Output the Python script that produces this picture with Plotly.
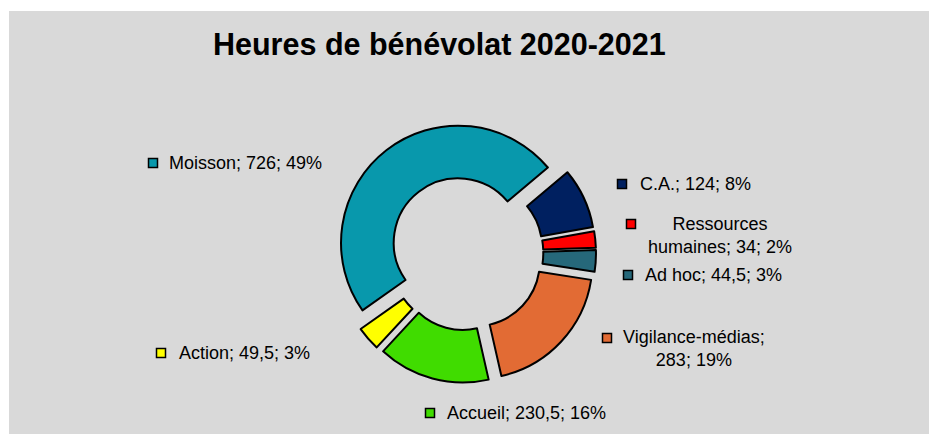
import plotly.graph_objects as go

# data (clockwise order, starting at C.A.)
categories = ["C.A.", "Ressources humaines", "Ad hoc", "Vigilance-médias", "Accueil", "Action", "Moisson"]
hours = [124, 34, 44.5, 283, 230.5, 49.5, 726]
pct_labels = [8, 2, 3, 19, 16, 3, 49]  # as printed on the chart

colors = ["#002060", "#ff0000", "#26687a", "#e26b34", "#40dc00", "#ffff00", "#0898ac"]

W, H = 929, 434


def fmt(v):
    # french decimal comma
    return str(v).replace(".", ",") if v % 1 else str(int(v))


label_lines = {
    "Ressources humaines": "Ressources<br>humaines; {v}; {p}%",
    "Vigilance-médias": "Vigilance-médias;<br>{v}; {p}%",
}

# where each label sits: (key square x, key y, text x, text y), pixels
label_pos = {
    "Moisson": (153, 163, 167, 163),
    "C.A.": (622, 184, 638, 184),
    "Ressources humaines": (631, 224, 646, 235.5),
    "Ad hoc": (628, 275, 643, 275),
    "Vigilance-médias": (607, 338, 621, 348),
    "Accueil": (430, 413, 445, 413),
    "Action": (161, 353, 177, 353),
}

fig = go.Figure()

# donut, every slice pulled out a bit
cx, cy, rad = 466, 253, 130
fig.add_trace(go.Pie(
    labels=categories,
    values=hours,
    sort=False,
    direction="clockwise",
    rotation=50,
    hole=0.55,
    pull=[0.11] * len(hours),
    marker=dict(colors=colors, line=dict(color="black", width=2)),
    textinfo="none",
    hoverinfo="none",
    showlegend=False,
    domain=dict(x=[(cx - rad) / W, (cx + rad) / W],
                y=[(H - cy - rad) / H, (H - cy + rad) / H]),
))

# invisible trace so the pixel axes exist
fig.add_trace(go.Scatter(x=[0, W], y=[0, H], mode="markers", marker=dict(opacity=0),
                         hoverinfo="skip", showlegend=False))

annotations = []
shapes = [dict(type="rect", xref="x", yref="y", x0=9, x1=W, y0=11, y1=H,
               fillcolor="#d9d9d9", line=dict(width=0), layer="below")]

for cat, v, p, c in zip(categories, hours, pct_labels, colors):
    kx, ky, tx, ty = label_pos[cat]
    tmpl = label_lines.get(cat, cat + "; {v}; {p}%")
    annotations.append(dict(
        x=tx, y=ty, xref="x", yref="y", xanchor="left", yanchor="middle",
        text=tmpl.format(v=fmt(v), p=p), showarrow=False, align="center",
        font=dict(family="Arial, Liberation Sans", size=18, color="#000000"),
    ))
    shapes.append(dict(type="rect", xref="x", yref="y", x0=kx - 4.5, x1=kx + 4.5,
                       y0=ky - 4.5, y1=ky + 4.5, fillcolor=c,
                       line=dict(color="black", width=1.5)))

annotations.append(dict(
    x=439, y=44, xref="x", yref="y", xanchor="center", yanchor="middle",
    text="<b>Heures de bénévolat 2020-2021</b>", showarrow=False,
    font=dict(family="Arial, Liberation Sans", size=30.5, color="#000000"),
))

fig.update_layout(
    width=W, height=H,
    margin=dict(l=0, r=0, t=0, b=0),
    paper_bgcolor="white",
    plot_bgcolor="rgba(0,0,0,0)",
    hovermode=False,
    xaxis=dict(range=[0, W], visible=False, fixedrange=True),
    yaxis=dict(range=[H, 0], visible=False, fixedrange=True),
    annotations=annotations,
    shapes=shapes,
)

# drop the default page margin so the figure fills the window exactly
fig.write_html("out.html", config={"displayModeBar": False},
               post_script="document.body.style.margin='0';document.body.style.overflow='hidden';")
